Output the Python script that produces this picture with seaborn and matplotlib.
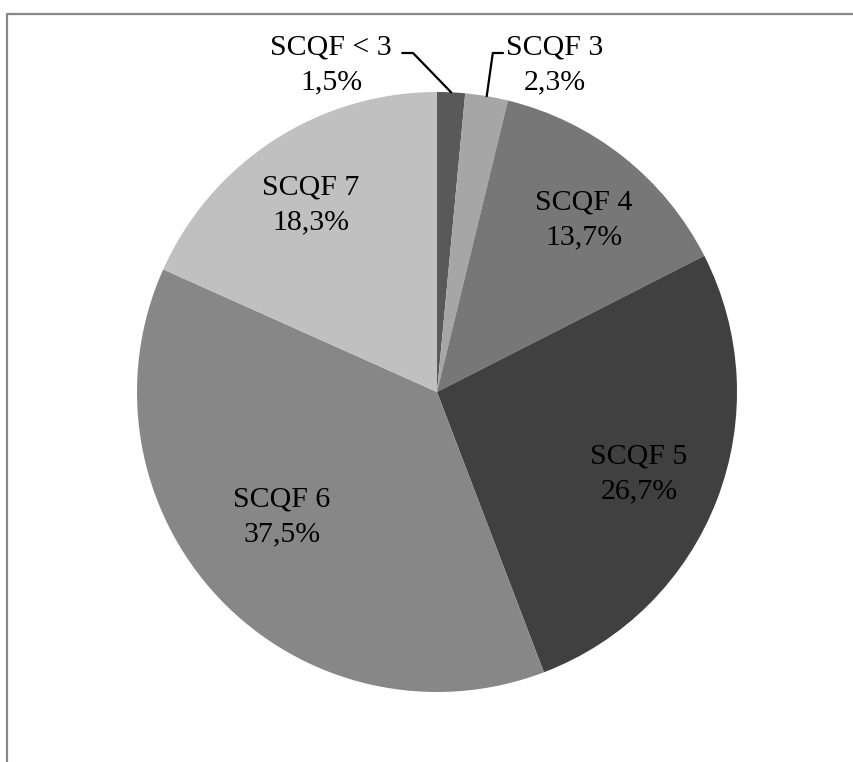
import numpy as np
import matplotlib
matplotlib.use("Agg")
import matplotlib.pyplot as plt
import seaborn as sns
from matplotlib.lines import Line2D

# -------- data --------
categories = ["SCQF < 3", "SCQF 3", "SCQF 4", "SCQF 5", "SCQF 6", "SCQF 7"]
shares = [1.5, 2.3, 13.7, 26.7, 37.5, 18.3]
colors = ["#595959", "#a6a6a6", "#777777", "#404040", "#878787", "#c0c0c0"]

# label placement (axes data units, pie radius = 1)
inside_pos = {"SCQF 4": (0.49, 0.573), "SCQF 5": (0.673, -0.273),
              "SCQF 6": (-0.517, -0.417), "SCQF 7": (-0.42, 0.623)}
outside_pos = {"SCQF < 3": (-0.353, 1.09), "SCQF 3": (0.393, 1.09)}

sns.set_theme(style="white")
plt.rcParams["font.family"] = ["Liberation Serif", "DejaVu Serif"]

fig = plt.figure(figsize=(8.54, 7.62), dpi=100)
ax = fig.add_axes([137 / 854, 70 / 762, 600 / 854, 600 / 762])

wedges, _ = ax.pie(shares, colors=colors, startangle=90, counterclock=False,
                   wedgeprops=dict(linewidth=0))
ax.set_xlim(-1, 1)
ax.set_ylim(-1, 1)
ax.set_aspect("equal")
ax.axis("off")


def fmt(v):
    return f"{v:.1f}%".replace(".", ",")


for cat, val, w in zip(categories, shares, wedges):
    txt = f"{cat}\n{fmt(val)}"
    if cat in inside_pos:
        x, y = inside_pos[cat]
        ax.text(x, y, txt, ha="center", va="center", fontsize=21.5,
                linespacing=1.45, color="black")
    else:
        x, y = outside_pos[cat]
        ax.text(x, y, txt, ha="center", va="center", fontsize=21.5,
                linespacing=1.45, color="black", clip_on=False)
        mid = np.deg2rad((w.theta1 + w.theta2) / 2)
        ex, ey = np.cos(mid), np.sin(mid)
        if x < 0:
            xs = [x + 0.237, x + 0.273, ex]
        else:
            xs = [x - 0.173, x - 0.207, ex]
        ys = [1.13, 1.13, ey]
        ax.add_line(Line2D(xs, ys, color="black", lw=1.6, clip_on=False))

# chart frame (cropped at right and bottom)
fx = 7 / 854
fy = 1 - 14 / 762
fig.add_artist(Line2D([fx, fx, 1], [0, fy, fy], color="#888888", lw=1.6,
                      transform=fig.transFigure))

fig.savefig("out.png", dpi=100)
